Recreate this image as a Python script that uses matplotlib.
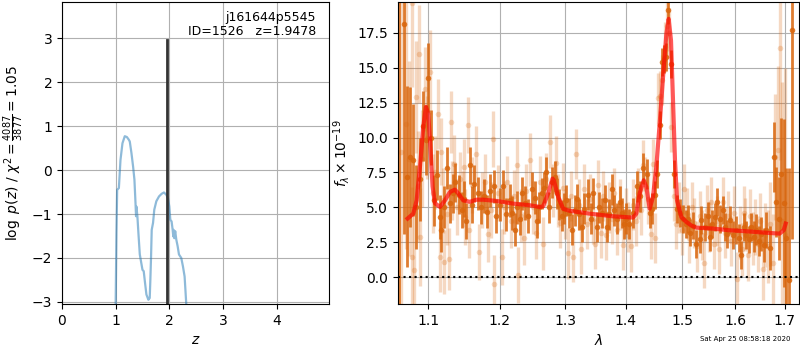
import matplotlib
matplotlib.use("Agg")
import matplotlib.pyplot as plt
from matplotlib.ticker import MultipleLocator, FixedLocator, NullLocator, FormatStrFormatter

# --- p(z) panel ---
z_grid = [0.99, 1.000, 1.015, 1.028, 1.060, 1.090, 1.127, 1.170, 1.210, 1.245, 1.263, 1.294,
          1.325, 1.350, 1.370, 1.380, 1.387, 1.405, 1.424, 1.450, 1.500, 1.523, 1.548,
          1.573, 1.610, 1.635, 1.647, 1.660, 1.672, 1.697, 1.720, 1.758, 1.808, 1.857,
          1.900, 1.944, 1.975, 2.000, 2.019, 2.043, 2.062, 2.074, 2.080, 2.093, 2.110,
          2.130, 2.155, 2.180, 2.223, 2.254, 2.285, 2.300, 2.316, 2.33]
logp = [-5.0, -3.05, -1.43, -0.45, -0.41, 0.23, 0.61, 0.77, 0.75, 0.69, 0.65, 0.39,
        0.08, -0.22, -0.75, -1.05, -0.83, -1.05, -1.43, -1.92, -2.27, -2.30, -2.57,
        -2.83, -2.95, -2.91, -2.49, -1.96, -1.36, -1.20, -0.90, -0.71, -0.60, -0.54,
        -0.51, -0.56, -0.64, -0.83, -1.13, -1.17, -1.36, -1.51, -1.36, -1.55, -1.39,
        -1.58, -1.73, -1.92, -2.00, -2.19, -2.42, -2.72, -3.05, -5.0]
z_best = 1.9478
obj_name = "j161644p5545"
obj_id = 1526
chi2_num, chi2_den, chi2_red = 4087, 3877, 1.05

# --- spectrum panel: binned (dark) points ---
wave_d = [1.0615, 1.0683, 1.0718, 1.0761, 1.0796, 1.0840, 1.0885, 1.0929, 1.0974, 1.1000,
          1.1041, 1.1080, 1.1117, 1.1154, 1.1176, 1.1215, 1.1254, 1.1299, 1.1335, 1.1368,
          1.1416, 1.1460, 1.1490, 1.1521, 1.1570, 1.1600, 1.1635, 1.1683, 1.1730, 1.1778,
          1.1820, 1.1860, 1.1914, 1.1951, 1.2000, 1.2053, 1.2094, 1.2152, 1.2190, 1.2227,
          1.2265, 1.2302, 1.2340, 1.2377, 1.2420, 1.2478, 1.2528, 1.2554, 1.2590, 1.2631,
          1.2670, 1.2708, 1.2749, 1.2790, 1.2838, 1.2874, 1.2910, 1.2943, 1.2980, 1.3022,
          1.3060, 1.3102, 1.3150, 1.3192, 1.3230, 1.3263, 1.3310, 1.3370, 1.3410, 1.3452,
          1.3508, 1.3550, 1.3591, 1.3645, 1.3684, 1.3720, 1.3758, 1.3796, 1.3850, 1.3897,
          1.3930, 1.3965, 1.4010, 1.4055, 1.4124, 1.4193, 1.4240, 1.4298, 1.4368, 1.4415,
          1.4450, 1.4500, 1.4544, 1.4592, 1.4641, 1.4663, 1.4712, 1.4740, 1.4801, 1.4843,
          1.4900, 1.4952, 1.5013, 1.5060, 1.5105, 1.5150, 1.5197, 1.5250, 1.5321, 1.5353,
          1.5420, 1.5470, 1.5509, 1.5560, 1.5604, 1.5647, 1.5713, 1.5763, 1.5800, 1.5840,
          1.5906, 1.5960, 1.6023, 1.6070, 1.6121, 1.6170, 1.6220, 1.6270, 1.6319, 1.6370,
          1.6419, 1.6470, 1.6520, 1.6570, 1.6621, 1.6687, 1.6769, 1.6824, 1.6880, 1.6927,
          1.6980, 1.7031, 1.7083, 1.7147]
flux_d = [22.0, 18.1, 7.2, 8.6, 8.4, 5.0, 7.0, 10.8, 9.8, 14.3,
          10.0, 5.5, 7.3, 4.3, 3.4, 5.0, 7.8, 5.3, 6.0, 6.8,
          5.9, 4.8, 5.6, 4.0, 8.0, 5.2, 6.7, 6.0, 5.0, 5.8,
          4.7, 6.2, 6.5, 4.4, 5.2, 6.5, 4.5, 5.5, 4.6, 3.4,
          5.0, 4.2, 6.0, 5.3, 4.4, 6.3, 5.7, 4.0, 5.0, 6.0,
          6.4, 7.5, 5.0, 6.8, 7.2, 6.0, 5.2, 4.4, 4.9, 5.5,
          4.6, 3.4, 4.8, 5.6, 4.5, 3.6, 4.9, 5.9, 4.2, 6.0,
          3.6, 5.0, 4.6, 5.5, 3.6, 4.5, 6.3, 4.8, 4.2, 5.4,
          4.6, 3.8, 4.2, 3.8, 4.6, 6.5, 5.8, 7.8, 7.4, 4.6,
          4.9, 5.9, 7.4, 10.9, 15.4, 15.6, 15.8, 19.1, 15.3, 7.4,
          4.9, 4.6, 4.2, 3.8, 4.2, 3.2, 3.7, 2.4, 2.7, 4.1,
          3.6, 4.4, 2.9, 3.8, 4.3, 5.4, 4.2, 4.8, 3.6, 3.1,
          4.1, 3.0, 3.4, 2.8, 1.6, 3.6, 3.0, 2.7, 3.6, 2.9,
          3.4, 2.6, 3.1, 2.3, 3.4, 2.1, 8.6, 5.4, 4.2, 7.4,
          5.3, 2.8, -0.2, 17.7]
err_d = [25.0, 15.0, 6.5, 5.0, 4.0, 3.0, 3.0, 2.5, 2.5, 2.5,
         2.0, 1.8, 1.8, 1.6, 1.6, 1.5, 1.5, 1.4, 1.4, 1.4,
         1.4, 1.3, 1.3, 1.3, 1.3, 1.3, 1.3, 1.2, 1.2, 1.2,
         1.2, 1.2, 1.2, 1.2, 1.2, 1.2, 1.2, 1.2, 1.2, 1.2,
         1.2, 1.2, 1.2, 1.2, 1.2, 1.2, 1.2, 1.2, 1.1, 1.1,
         1.1, 1.1, 1.1, 1.1, 1.1, 1.1, 1.1, 1.1, 1.1, 1.1,
         1.1, 1.1, 1.1, 1.1, 1.1, 1.1, 1.1, 1.1, 1.1, 1.1,
         1.1, 1.1, 1.1, 1.1, 1.1, 1.1, 1.1, 1.1, 1.1, 1.1,
         1.1, 1.1, 1.1, 1.1, 1.1, 1.1, 1.1, 1.1, 1.1, 1.1,
         1.1, 1.0, 1.0, 1.0, 1.0, 1.0, 1.0, 1.0, 1.0, 1.0,
         1.0, 1.0, 1.0, 1.0, 1.0, 1.0, 1.0, 1.0, 1.0, 1.0,
         1.0, 1.0, 1.0, 1.0, 1.0, 1.0, 1.0, 1.0, 1.0, 1.0,
         1.0, 1.0, 1.0, 1.0, 1.0, 1.0, 1.0, 1.0, 1.0, 1.1,
         1.1, 1.1, 1.2, 1.2, 1.3, 1.6, 2.5, 2.5, 3.0, 4.0,
         6.0, 5.0, 8.0, 15.0]

# --- spectrum panel: unbinned (light) points ---
wave_l = [1.0640, 1.0700, 1.0745, 1.0778, 1.0785, 1.0810, 1.0837, 1.0860, 1.0880, 1.0892,
          1.0920, 1.0950, 1.0985, 1.1020, 1.1060, 1.1095, 1.1126, 1.1157, 1.1166, 1.1200,
          1.1215, 1.1250, 1.1280, 1.1306, 1.1330, 1.1350, 1.1390, 1.1430, 1.1470, 1.1490,
          1.1510, 1.1550, 1.1566, 1.1610, 1.1657, 1.1700, 1.1740, 1.1790, 1.1826, 1.1870,
          1.1900, 1.1925, 1.1980, 1.2035, 1.2070, 1.2110, 1.2170, 1.2210, 1.2260, 1.2280,
          1.2320, 1.2360, 1.2400, 1.2452, 1.2500, 1.2540, 1.2600, 1.2656, 1.2700, 1.2765,
          1.2810, 1.2850, 1.2880, 1.2920, 1.2960, 1.3000, 1.3050, 1.3090, 1.3130, 1.3180,
          1.3220, 1.3260, 1.3300, 1.3350, 1.3400, 1.3450, 1.3490, 1.3540, 1.3580, 1.3620,
          1.3670, 1.3710, 1.3760, 1.3800, 1.3850, 1.3900, 1.3950, 1.4000, 1.4040, 1.4090,
          1.4130, 1.4170, 1.4210, 1.4260, 1.4300, 1.4340, 1.4390, 1.4435, 1.4470, 1.4510,
          1.4560, 1.4600, 1.4625, 1.4680, 1.4720, 1.4760, 1.4800, 1.4850, 1.4890, 1.4940,
          1.4990, 1.5030, 1.5080, 1.5120, 1.5170, 1.5220, 1.5270, 1.5320, 1.5370, 1.5410,
          1.5450, 1.5500, 1.5540, 1.5590, 1.5640, 1.5690, 1.5760, 1.5810, 1.5860, 1.5920,
          1.5970, 1.6040, 1.6090, 1.6140, 1.6170, 1.6200, 1.6250, 1.6300, 1.6350, 1.6400,
          1.6450, 1.6500, 1.6560, 1.6600, 1.6650, 1.6700, 1.6750, 1.6790, 1.6850, 1.6900,
          1.6950, 1.7000]
flux_l = [9.0, 11.0, 8.5, 19.6, 1.45, 0.55, 12.9, 6.5, 16.0, 2.9,
          8.5, 13.5, 10.0, 14.7, 6.0, 7.5, 11.7, 1.45, 9.0, 5.5,
          1.1, 4.5, 1.3, 11.1, 6.2, 8.1, 5.0, 7.0, 5.6, 7.9,
          4.3, 10.9, 3.4, 6.6, 8.85, 1.8, 5.5, 6.8, 3.1, 4.8,
          9.9, -0.5, 6.0, 1.45, 5.0, 6.8, 4.0, 5.8, 8.0, 0.15,
          4.4, 2.8, 6.2, 8.4, 5.0, 3.2, 6.8, 2.4, 7.0, 9.7,
          6.2, 8.2, 5.5, 3.9, 6.4, 4.5, 1.7, 5.8, 1.45, 8.8,
          5.2, 2.05, 6.3, 3.8, 5.6, 4.2, 2.4, 6.6, 3.2, 5.8,
          3.0, 5.0, 4.2, 6.0, 3.4, 5.2, 2.3, 4.6, 3.6, 2.2,
          5.2, 4.0, 6.0, 4.8, 8.0, 6.8, 5.6, 3.1, 8.1, 2.8,
          12.8, 13.0, 14.1, 16.5, 18.0, 17.5, 10.75, 5.8, 3.8, 5.0,
          3.4, 6.3, 4.6, 2.8, 5.0, 3.9, 2.2, 4.4, 3.0, 1.0,
          4.8, 3.6, 5.4, 2.4, 4.0, 2.0, 5.4, 3.2, 4.4, 2.6,
          4.6, -0.1, 3.2, 2.0, 4.6, 3.8, 1.6, 4.4, 2.8, 3.6,
          2.4, 4.0, 0.6, 3.0, 2.2, 3.8, 1.0, 8.6, 9.1, 16.4,
          4.0, 3.0]
err_l = [11.0, 9.0, 7.0, 6.0, 5.0, 4.5, 4.0, 4.0, 3.5, 3.5,
         3.5, 3.0, 3.0, 3.0, 2.8, 2.6, 2.5, 2.5, 2.4, 2.3,
         2.3, 2.2, 2.2, 2.2, 2.1, 2.1, 2.0, 2.0, 2.0, 2.0,
         2.0, 2.0, 2.0, 2.0, 2.0, 2.0, 2.0, 2.0, 2.0, 2.0,
         2.0, 2.1, 2.0, 2.0, 1.9, 1.9, 1.9, 1.9, 1.9, 2.0,
         1.9, 1.9, 1.9, 1.9, 1.9, 1.9, 1.9, 1.9, 1.9, 1.9,
         1.9, 1.9, 1.9, 1.8, 1.8, 1.8, 1.8, 1.8, 1.8, 1.8,
         1.8, 1.8, 1.8, 1.8, 1.8, 1.8, 1.8, 1.8, 1.8, 1.8,
         1.8, 1.8, 1.8, 1.8, 1.8, 1.8, 1.8, 1.8, 1.8, 1.8,
         1.8, 1.8, 1.8, 1.8, 1.8, 1.8, 1.8, 1.8, 1.8, 1.8,
         1.8, 1.8, 1.8, 1.8, 1.8, 1.8, 1.8, 1.8, 1.8, 1.8,
         1.8, 1.8, 1.8, 1.8, 1.8, 1.8, 1.8, 1.8, 1.8, 1.8,
         1.8, 1.8, 1.8, 1.8, 1.8, 1.8, 1.8, 1.8, 1.8, 1.8,
         1.9, 1.9, 1.9, 1.9, 1.9, 1.9, 1.9, 1.9, 1.9, 2.0,
         2.0, 2.0, 2.2, 2.3, 2.6, 3.0, 3.5, 4.5, 6.0, 8.0,
         10.0, 12.0]

# --- best-fit model ---
wave_m = [1.0726, 1.0801, 1.0845, 1.0889, 1.0933, 1.0969, 1.1000, 1.1031, 1.1058, 1.1090,
          1.1158, 1.1226, 1.1295, 1.1364, 1.1410, 1.1480, 1.1573, 1.1668, 1.1763, 1.1956,
          1.2202, 1.2452, 1.2605, 1.2656, 1.2734, 1.2801, 1.2822, 1.2890, 1.2969, 1.3075,
          1.3397, 1.3784, 1.4124, 1.4181, 1.4239, 1.4309, 1.4355, 1.4414, 1.4472, 1.4531,
          1.4591, 1.4650, 1.4710, 1.4752, 1.4794, 1.4830, 1.4866, 1.4903, 1.4982, 1.5074,
          1.5166, 1.5259, 1.5572, 1.5892, 1.6219, 1.6552, 1.6892, 1.6975, 1.7017]
flux_m = [4.2, 4.55, 5.5, 7.9, 10.75, 12.2, 11.7, 9.1, 6.5, 5.3,
          5.03, 5.5, 6.1, 6.27, 6.0, 5.5, 5.4, 5.55, 5.55, 5.46,
          5.27, 5.15, 5.03, 5.08, 6.0, 7.06, 6.94, 5.75, 4.9, 4.75,
          4.55, 4.36, 4.27, 4.55, 6.0, 6.94, 6.46, 4.91, 5.75, 7.9,
          11.0, 14.3, 17.4, 18.5, 16.95, 12.66, 8.37, 5.5, 4.3, 3.96,
          3.7, 3.55, 3.48, 3.36, 3.29, 3.2, 3.12, 3.36, 3.84]

timestamp = "Sat Apr 25 08:58:18 2020"
wave_ticks = [1.1, 1.2, 1.3, 1.4, 1.5, 1.6, 1.7]

dark = "#d9660d"

fig = plt.figure(figsize=(8, 3.5), dpi=100)
ax1 = fig.add_axes([0.0775, 0.131, 0.334, 0.863])
ax2 = fig.add_axes([0.497, 0.131, 0.502, 0.863])

# left: p(z)
ax1.plot(z_grid, logp, color="tab:blue", alpha=0.5, lw=1.6)
ax1.plot([z_best, z_best], [-3.1, 2.95], color="0.2", lw=2)
ax1.set_xlim(0, 4.98)
ax1.set_ylim(-3.05, 3.82)
ax1.grid()
ax1.set_xlabel("$z$")
ax1.set_ylabel(r"$\log\ p(z)$ / $\chi^2=\frac{%d}{%d}=%.2f$" % (chi2_num, chi2_den, chi2_red))
ax1.text(0.95, 0.97, "%s\nID=%d   z=%.4f" % (obj_name, obj_id, z_best),
         transform=ax1.transAxes, ha="right", va="top", fontsize=9, linespacing=1.1)

# right: spectrum
ax2.errorbar(wave_l, flux_l, yerr=err_l, color=dark, alpha=0.25, marker="o", ms=4,
             linestyle="none", elinewidth=2.4, mec="none")
ax2.errorbar(wave_d, flux_d, yerr=err_d, color=dark, alpha=0.85, marker="o", ms=4,
             linestyle="none", elinewidth=2.0, mec="none")
ax2.plot(wave_m, flux_m, color="r", alpha=0.65, lw=3, zorder=10)
ax2.axhline(0, color="k", ls=":", lw=1.5)
ax2.set_xscale("log")
ax2.set_xlim(1.0596, 1.730)
ax2.set_ylim(-1.93, 19.7)
ax2.xaxis.set_major_locator(FixedLocator(wave_ticks))
ax2.xaxis.set_major_formatter(FormatStrFormatter("%.1f"))
ax2.xaxis.set_minor_locator(NullLocator())
ax2.yaxis.set_major_locator(MultipleLocator(2.5))
ax2.grid()
ax2.set_xlabel(r"$\lambda$")
ax2.set_ylabel(r"$f_\lambda\times10^{-19}$")

fig.text(0.931, 0.03, timestamp, fontsize=5, ha="center", va="center")

fig.savefig("out.png", dpi=100)
